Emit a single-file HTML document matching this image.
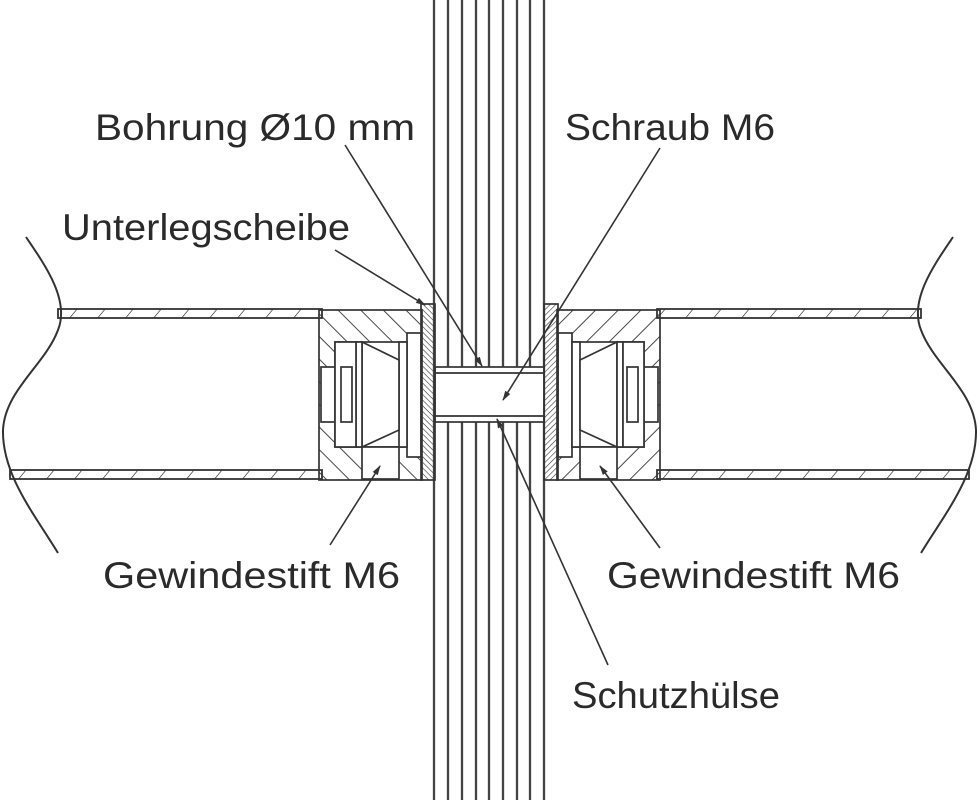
<!DOCTYPE html>
<html><head><meta charset="utf-8"><style>
html,body{margin:0;padding:0;background:#fff;}
svg{display:block;}
text{font-family:"Liberation Sans",sans-serif;font-size:37px;fill:#2a2a2a;}
</style></head><body>
<svg width="979" height="800" viewBox="0 0 979 800" xmlns="http://www.w3.org/2000/svg">
<defs>
<pattern id="h1" patternUnits="userSpaceOnUse" width="16" height="16" patternTransform="rotate(45)">
<line x1="0" y1="0" x2="0" y2="16" stroke="#333" stroke-width="1.8"/></pattern>
<pattern id="h2" patternUnits="userSpaceOnUse" width="4" height="4" patternTransform="rotate(45)">
<line x1="0" y1="0" x2="0" y2="4" stroke="#333" stroke-width="1.2"/></pattern>
<pattern id="h3" patternUnits="userSpaceOnUse" width="28" height="9" patternTransform="skewX(-40)">
<line x1="0" y1="0" x2="0" y2="9" stroke="#333" stroke-width="1.8"/></pattern>
<marker id="ar" markerWidth="10" markerHeight="8" refX="9" refY="4" orient="auto" markerUnits="userSpaceOnUse">
<path d="M0,1 L10,4 L0,7 Z" fill="#333"/></marker>
<g id="fit" stroke="#333" stroke-width="1.7">
<rect x="557" y="310" width="103" height="170" fill="url(#h1)"/>
<rect x="558" y="342" width="86" height="105" fill="#fff"/>
<rect x="644" y="367" width="14" height="55" fill="#fff"/>
<rect x="580" y="447" width="37" height="32" fill="#fff"/>
<rect x="558" y="333" width="14" height="124" fill="#fff"/>
<rect x="572" y="342" width="8" height="105" fill="#fff"/>
<path d="M580,360 L617,342 L617,447 L580,430 Z" fill="#fff"/>
<rect x="617" y="342" width="6" height="105" fill="#fff"/>
<rect x="623" y="342" width="21" height="105" fill="#fff"/>
<rect x="627" y="367" width="11" height="55" fill="#fff"/>
<rect x="544" y="304" width="14" height="176" fill="url(#h2)"/>
</g>
</defs>

<g stroke="#444" stroke-width="2.3">
<line x1="434" y1="0" x2="434" y2="800"/><line x1="448" y1="0" x2="448" y2="800"/>
<line x1="462" y1="0" x2="462" y2="800"/><line x1="476" y1="0" x2="476" y2="800"/>
<line x1="489" y1="0" x2="489" y2="800"/><line x1="503" y1="0" x2="503" y2="800"/>
<line x1="517" y1="0" x2="517" y2="800"/><line x1="530" y1="0" x2="530" y2="800"/>
<line x1="544" y1="0" x2="544" y2="800"/>
</g>
<rect x="435" y="367" width="109" height="55" fill="#fff" stroke="#333" stroke-width="1.7"/>
<line x1="435" y1="373" x2="544" y2="373" stroke="#333" stroke-width="1.7"/>
<line x1="435" y1="416" x2="544" y2="416" stroke="#333" stroke-width="1.7"/>

<g stroke="#333" stroke-width="1.8">
<rect x="58" y="309" width="264" height="9" fill="url(#h3)"/>
<rect x="10" y="470" width="312" height="9" fill="url(#h3)"/>
<rect x="657" y="309" width="264" height="9" fill="url(#h3)"/>
<rect x="657" y="470" width="312" height="9" fill="url(#h3)"/>
</g>
<g fill="none" stroke="#333" stroke-width="2">
<path d="M26,237 C45,265 70,300 58,330 C45,365 5,390 3,430 C2,475 35,515 58,553"/>
<path d="M953,237 C934,265 909,300 921,330 C934,365 974,390 976,430 C977,475 944,515 921,553"/>
</g>

<use href="#fit"/>
<use href="#fit" transform="translate(979,0) scale(-1,1)"/>

<g stroke="#333" stroke-width="1.6" fill="none" marker-end="url(#ar)">
<line x1="345" y1="145" x2="482" y2="366"/>
<line x1="660" y1="148" x2="503" y2="400"/>
<line x1="335" y1="250" x2="425" y2="305"/>
<line x1="330" y1="545" x2="380" y2="466"/>
<line x1="660" y1="548" x2="600" y2="466"/>
<line x1="608" y1="665" x2="497" y2="419"/>
</g>

<text x="95" y="140" textLength="320" lengthAdjust="spacingAndGlyphs">Bohrung Ø10 mm</text>
<text x="565" y="140" textLength="210" lengthAdjust="spacingAndGlyphs">Schraub M6</text>
<text x="62" y="240" textLength="288" lengthAdjust="spacingAndGlyphs">Unterlegscheibe</text>
<text x="103" y="588" textLength="297" lengthAdjust="spacingAndGlyphs">Gewindestift M6</text>
<text x="607" y="588" textLength="293" lengthAdjust="spacingAndGlyphs">Gewindestift M6</text>
<text x="572" y="708" textLength="208" lengthAdjust="spacingAndGlyphs">Schutzhülse</text>
</svg>
</body></html>
